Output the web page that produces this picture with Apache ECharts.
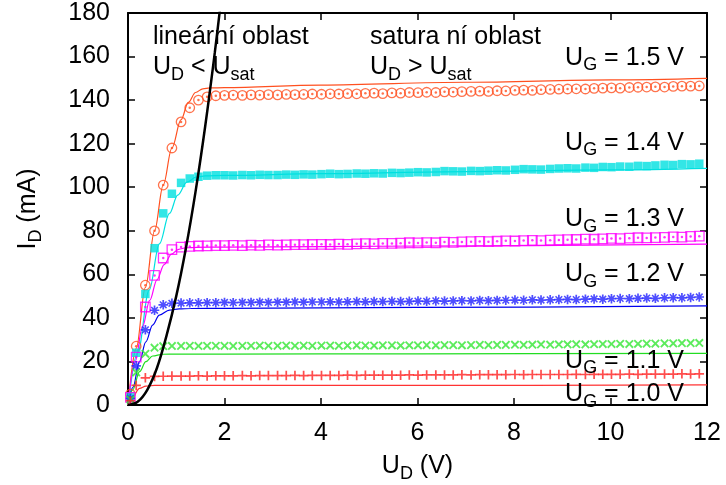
<!DOCTYPE html>
<html>
<head>
<meta charset="utf-8">
<title>MOSFET output characteristics</title>
<script src="https://cdn.jsdelivr.net/npm/echarts@6/dist/echarts.min.js"></script>
<style>
html, body { margin: 0; padding: 0; background: #fff; }
#main { width: 726px; height: 485px; }
</style>
</head>
<body>
<div id="main"></div>
<script>
// measured drain voltage U_D (V), shared by all gate voltages
var ud = [
  0.05, 0.17, 0.36, 0.55, 0.73, 0.91, 1.10, 1.28, 1.46, 1.64,
  1.82, 2.00, 2.18, 2.37, 2.55, 2.73, 2.91, 3.10, 3.28, 3.46,
  3.64, 3.82, 4.01, 4.19, 4.37, 4.55, 4.74, 4.92, 5.10, 5.28,
  5.47, 5.65, 5.83, 6.01, 6.19, 6.38, 6.56, 6.74, 6.92, 7.11,
  7.29, 7.47, 7.65, 7.83, 8.02, 8.20, 8.38, 8.56, 8.75, 8.93,
  9.11, 9.29, 9.48, 9.66, 9.84, 10.02, 10.20, 10.39, 10.57, 10.75,
  10.93, 11.12, 11.30, 11.48, 11.66, 11.84
];

// measured drain current I_D (mA)
var id15 = [
  5, 27, 55, 80, 101, 118, 130, 136.5, 140, 141.5,
  142, 142.2, 142.3, 142.2, 142.4, 142.3, 142.5, 142.4, 142.6, 142.5,
  142.6, 142.8, 142.7, 142.9, 142.8, 143.0, 142.9, 143.1, 143.2, 143.0,
  143.3, 143.2, 143.5, 143.4, 143.6, 143.5, 143.8, 143.7, 143.9, 144.0,
  144.1, 144.0, 144.3, 144.2, 144.5, 144.6, 144.5, 144.8, 144.9, 145.0,
  145.1, 145.2, 145.1, 145.4, 145.5, 145.6, 145.5, 145.8, 145.9, 146.0,
  146.1, 146.0, 146.3, 146.4, 146.4, 146.5
];
var id14 = [
  4, 24, 51, 72, 88, 97, 102, 104, 104.8, 105.3,
  105.5, 105.5, 105.4, 105.6, 105.5, 105.7, 105.6, 105.6, 105.8, 105.7,
  105.9, 105.8, 106.0, 106.2, 106.0, 106.1, 106.3, 106.2, 106.4, 106.3,
  106.6, 106.5, 106.7, 106.9, 106.8, 107.0, 107.4, 107.3, 107.2, 107.5,
  107.4, 107.6, 107.8, 107.7, 108.0, 108.3, 108.2, 108.1, 108.4, 108.6,
  108.7, 108.6, 109.0, 108.9, 109.3, 109.2, 109.5, 109.4, 109.8, 109.7,
  110.0, 110.3, 110.2, 110.6, 110.5, 110.8
];
var id13 = [
  3.5, 22, 45, 59.5, 67.5, 71.3, 72.5, 72.8, 73.0, 73.1,
  73.2, 73.2, 73.3, 73.2, 73.4, 73.3, 73.5, 73.4, 73.5, 73.6,
  73.6, 73.7, 73.8, 73.7, 73.9, 73.8, 74.0, 74.1, 74.0, 74.2,
  74.2, 74.3, 74.5, 74.4, 74.6, 74.5, 74.8, 74.7, 74.9, 75.0,
  75.1, 75.0, 75.2, 75.4, 75.3, 75.5, 75.6, 75.5, 75.7, 75.8,
  75.9, 76.0, 76.2, 76.1, 76.3, 76.5, 76.4, 76.6, 76.8, 76.7,
  76.9, 77.0, 77.2, 77.1, 77.4, 77.5
];
var id12 = [
  3, 18, 34.5, 43.5, 46, 46.7, 46.8, 46.9, 46.9, 47.0,
  47.0, 47.1, 47.0, 47.1, 47.1, 47.2, 47.1, 47.2, 47.2, 47.3,
  47.2, 47.3, 47.3, 47.4, 47.3, 47.4, 47.5, 47.4, 47.5, 47.5,
  47.6, 47.5, 47.6, 47.7, 47.6, 47.8, 47.7, 47.8, 47.9, 47.8,
  48.0, 47.9, 48.0, 48.1, 48.2, 48.1, 48.3, 48.2, 48.3, 48.4,
  48.5, 48.4, 48.6, 48.7, 48.6, 48.8, 48.9, 48.8, 49.0, 49.1,
  49.0, 49.2, 49.3, 49.2, 49.4, 49.6
];
var id11 = [
  2.5, 15, 23.5, 26.3, 27.0, 27.1, 27.1, 27.2, 27.1, 27.2,
  27.2, 27.2, 27.1, 27.2, 27.2, 27.3, 27.2, 27.2, 27.3, 27.2,
  27.3, 27.2, 27.3, 27.3, 27.2, 27.3, 27.4, 27.3, 27.3, 27.4,
  27.4, 27.3, 27.4, 27.4, 27.5, 27.4, 27.5, 27.5, 27.4, 27.5,
  27.6, 27.5, 27.6, 27.6, 27.7, 27.6, 27.7, 27.8, 27.7, 27.8,
  27.8, 27.9, 27.8, 27.9, 28.0, 28.0, 28.1, 28.0, 28.1, 28.2,
  28.2, 28.3, 28.3, 28.4, 28.4, 28.5
];
var id10 = [
  2, 9, 12.5, 13.1, 13.2, 13.3, 13.3, 13.3, 13.4, 13.3,
  13.4, 13.4, 13.4, 13.5, 13.4, 13.5, 13.5, 13.5, 13.5, 13.6,
  13.5, 13.6, 13.6, 13.6, 13.6, 13.7, 13.6, 13.7, 13.7, 13.7,
  13.7, 13.7, 13.8, 13.7, 13.8, 13.8, 13.8, 13.8, 13.9, 13.8,
  13.9, 13.9, 13.9, 13.9, 14.0, 13.9, 14.0, 14.0, 14.0, 14.0,
  14.0, 14.1, 14.0, 14.1, 14.1, 14.1, 14.1, 14.2, 14.1, 14.2,
  14.2, 14.2, 14.2, 14.3, 14.2, 14.3
];

// model curves
var fit15x = [0, 0.17, 0.36, 0.55, 0.73, 0.91, 1.1, 1.25, 1.4, 1.55, 1.7, 2, 4, 7, 10, 12];
var fit15y = [0, 26, 54, 80, 101, 118, 131, 139, 143.5, 145.2, 145.6, 145.7, 146.9, 148.2, 149.3, 150];
var fit14x = [0, 0.2, 0.44, 0.65, 0.86, 1.03, 1.22, 1.41, 1.6, 2, 4, 7, 10, 12];
var fit14y = [0, 24, 52.8, 74, 88, 96.4, 102.3, 104.6, 105.2, 105.4, 106.2, 107.2, 108.0, 108.7];
var fit13x = [0, 0.15, 0.3, 0.45, 0.6, 0.75, 0.9, 1.05, 1.2, 1.4, 2, 6, 12];
var fit13y = [0, 20, 36, 48, 57.5, 64.5, 69.3, 71.5, 72.2, 72.4, 72.5, 73, 73.9];
var fit12x = [0, 0.1, 0.24, 0.37, 0.51, 0.65, 0.86, 1.06, 1.3, 2, 6, 12];
var fit12y = [0, 8, 20, 29, 36.7, 41.3, 43.6, 44.1, 44.3, 44.4, 44.8, 45.5];
var fit11x = [0, 0.1, 0.24, 0.37, 0.51, 0.72, 1.0, 2, 6, 12];
var fit11y = [0, 7, 15.3, 19.9, 22.5, 23.3, 23.4, 23.4, 23.5, 23.7];
var fit10x = [0, 0.1, 0.24, 0.37, 0.55, 1.0, 6, 12];
var fit10y = [0, 4, 7.6, 8.7, 9.0, 9.0, 9.0, 9.2];

// boundary U_D = U_sat
var usatX = [0, 0.2, 0.4, 0.6, 0.8, 1.0, 1.2, 1.4, 1.6, 1.8, 1.95];
var usatY = [0, 1.5, 7, 17, 32, 50, 72, 98, 128, 162, 190];

var gateLabels = ['1.5', '1.4', '1.3', '1.2', '1.1', '1.0'];
var xTicks = [0, 12, 2];
var yTicks = [0, 180, 20];

var FONT = 'Liberation Sans, Arial, Helvetica, sans-serif';
var C15 = '#ff5020', C14 = '#00e0e0', C13 = '#ff00ff', C12 = '#2020ff', C11 = '#33e633', C10 = '#ff2020';

var PLUS = 'path://M4.1,0H5.9V4.1H10V5.9H5.9V10H4.1V5.9H0V4.1H4.1Z';
var STAR = 'path://M4.1,0H5.9V4.1H10V5.9H5.9V10H4.1V5.9H0V4.1H4.1Z' +
  'M2.07,0.93L9.07,7.93L7.93,9.07L0.93,2.07Z' +
  'M9.07,2.07L2.07,9.07L0.93,7.93L7.93,0.93Z';

function pairs(xs, ys) {
  return xs.map(function (x, i) { return [x, ys[i]]; });
}

var rich = {
  m: { fontSize: 25, fontFamily: FONT, color: '#000', verticalAlign: 'top' },
  s: { fontSize: 18, fontFamily: FONT, color: '#000', verticalAlign: 'top', padding: [11, 0, 0, 0] }
};

function txt(x, y, text, align) {
  return {
    type: 'text', x: x, y: y, z: 100,
    style: { text: text, rich: rich, fontSize: 25, fontFamily: FONT, fill: '#000',
             align: align || 'left', verticalAlign: 'top' }
  };
}

var gateTop = [45.5, 130.5, 207, 262, 348.5, 382];
var graphics = [
  txt(153, 24.5, '{m|lineární oblast}'),
  txt(153, 55, '{m|U}{s|D}{m| < U}{s|sat}'),
  txt(370, 24.5, '{m|satura ní oblast}'),
  txt(370, 55, '{m|U}{s|D}{m| > U}{s|sat}')
];
gateLabels.forEach(function (g, i) {
  graphics.push(txt(684, gateTop[i], '{m|U}{s|G}{m| = ' + g + ' V}', 'right'));
});

function axisBase(extra) {
  var a = {
    type: 'value',
    axisLine: { show: true, onZero: false, lineStyle: { color: '#000', width: 2 } },
    axisTick: { show: true, inside: true, length: 7, lineStyle: { color: '#000', width: 1.5 } },
    splitLine: { show: false },
    axisLabel: { show: false }
  };
  for (var k in extra) a[k] = extra[k];
  return a;
}

function fitLine(xs, ys, color) {
  return {
    type: 'line', data: pairs(xs, ys), showSymbol: false, symbol: 'none',
    smooth: 0.35, smoothMonotone: 'x', z: 2,
    lineStyle: { color: color, width: 1.2 }
  };
}

function openMark(ys, symbol, color, size) {
  return [{
    type: 'scatter', data: pairs(ud, ys), symbol: symbol, symbolSize: size, z: 3,
    itemStyle: { color: 'rgba(0,0,0,0)', borderColor: color, borderWidth: 1.3 }
  }, {
    type: 'scatter', data: pairs(ud, ys), symbol: 'circle', symbolSize: 2.5, z: 3,
    itemStyle: { color: color }
  }];
}

function mark(ys, symbol, color, size, rotate) {
  return {
    type: 'scatter', data: pairs(ud, ys), symbol: symbol, symbolSize: size,
    symbolRotate: rotate || 0, z: 3, itemStyle: { color: color }
  };
}

var series = [
  fitLine(fit15x, fit15y, C15),
  fitLine(fit14x, fit14y, C14),
  fitLine(fit13x, fit13y, C13),
  fitLine(fit12x, fit12y, '#0000ee'),
  fitLine(fit11x, fit11y, '#22dd22'),
  fitLine(fit10x, fit10y, '#ff3333')
]
  .concat(openMark(id15, 'circle', C15, 9.5))
  .concat([mark(id14, 'rect', C14, 8.5)])
  .concat(openMark(id13, 'rect', C13, 9.5))
  .concat([mark(id12, STAR, C12, 9.5), mark(id11, PLUS, C11, 10.5, 45), mark(id10, PLUS, C10, 9.5)])
  .concat([{
    type: 'line', data: pairs(usatX, usatY), showSymbol: false, symbol: 'none',
    smooth: 0.4, z: 4, clip: true, lineStyle: { color: '#000', width: 2.5 }
  }]);

var chart = echarts.init(document.getElementById('main'), null, { renderer: 'canvas' });
chart.setOption({
  animation: false,
  backgroundColor: '#fff',
  grid: { left: 128, right: 19, top: 13, bottom: 80, outerBoundsMode: 'none' },
  xAxis: [
    axisBase({
      position: 'bottom', min: xTicks[0], max: xTicks[1], interval: xTicks[2],
      axisLabel: { show: true, margin: 16, fontSize: 25, fontFamily: FONT, color: '#000' },
      name: '{m|U}{s|D}{m| (V)}', nameLocation: 'middle', nameGap: 49,
      nameTextStyle: { rich: rich, fontSize: 25, fontFamily: FONT, color: '#000' }
    }),
    axisBase({ position: 'top', min: xTicks[0], max: xTicks[1], interval: xTicks[2] })
  ],
  yAxis: [
    axisBase({
      position: 'left', min: yTicks[0], max: yTicks[1], interval: yTicks[2],
      axisLabel: { show: true, margin: 18, fontSize: 25, fontFamily: FONT, color: '#000' },
      name: '{m|I}{s|D}{m| (mA)}', nameLocation: 'middle', nameGap: 83, nameRotate: 90,
      nameTextStyle: { rich: rich, fontSize: 25, fontFamily: FONT, color: '#000' }
    }),
    axisBase({ position: 'right', min: yTicks[0], max: yTicks[1], interval: yTicks[2] })
  ],
  graphic: graphics,
  series: series
});
</script>
</body>
</html>
